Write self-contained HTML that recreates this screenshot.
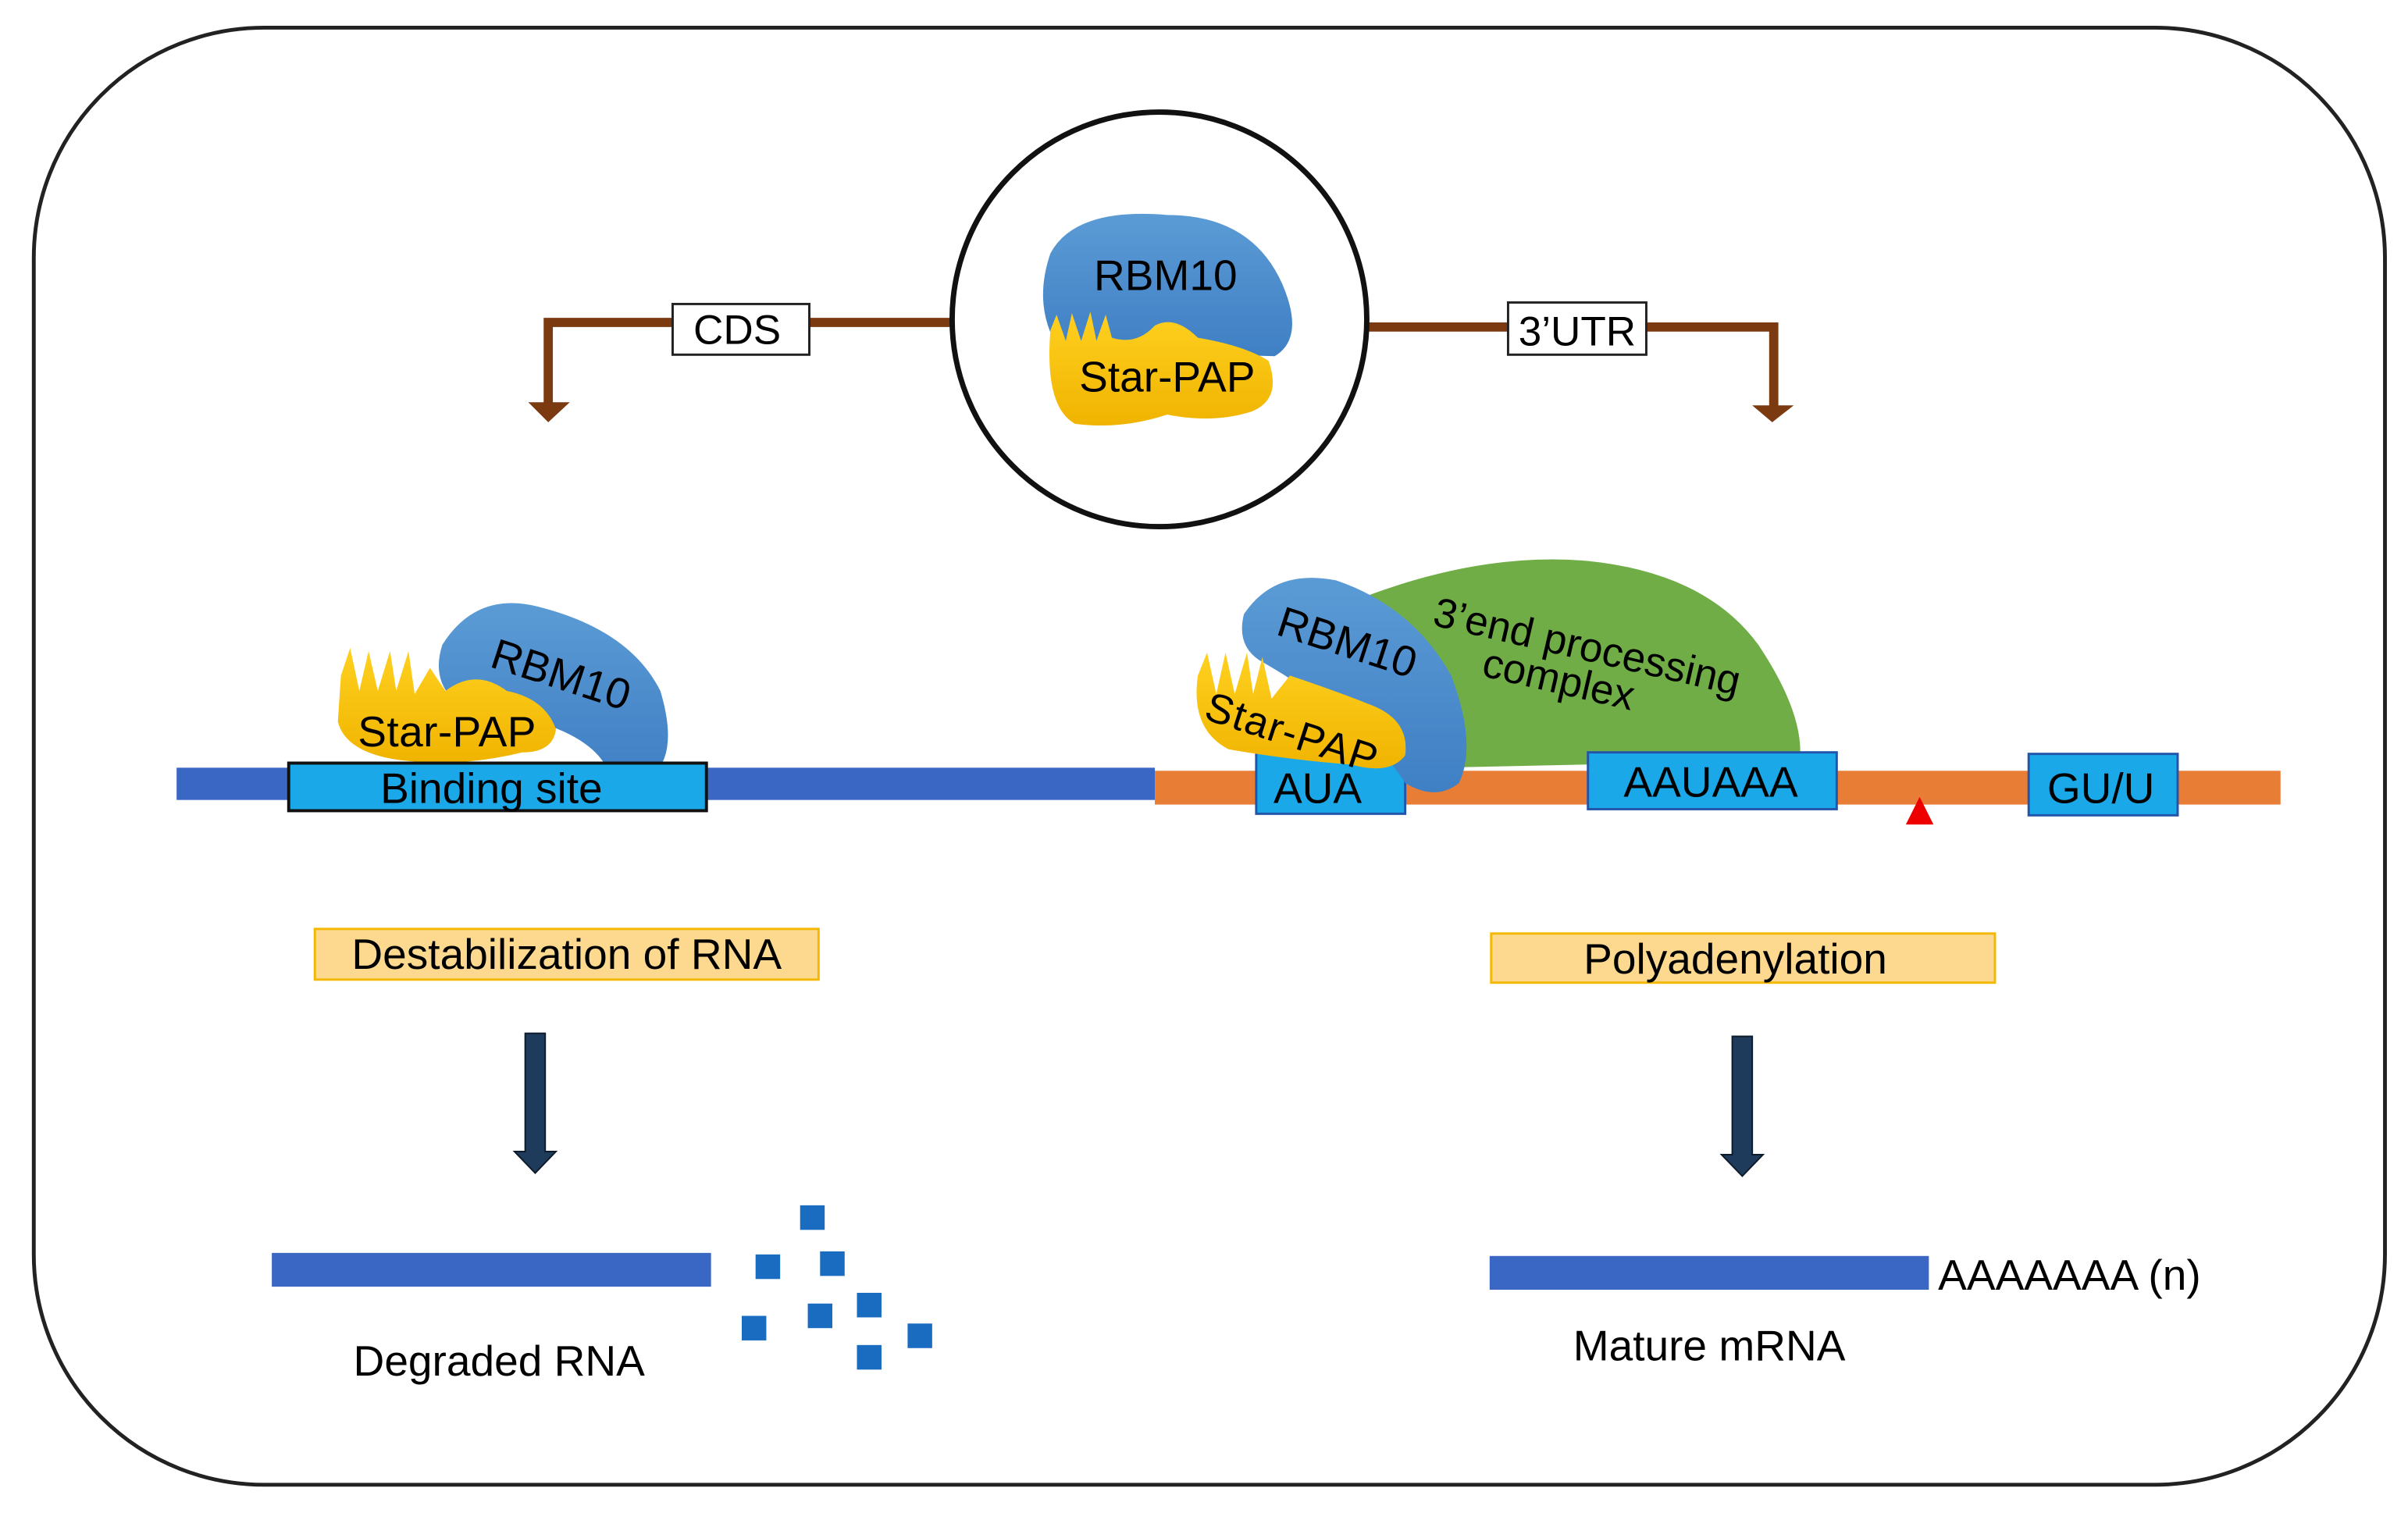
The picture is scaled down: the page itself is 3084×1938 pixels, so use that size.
<!DOCTYPE html>
<html><head><meta charset="utf-8"><style>
html,body{margin:0;padding:0;background:#fff}
svg{display:block}
text{font-family:"Liberation Sans",Arial,sans-serif}
</style></head><body>
<svg width="3084" height="1938" viewBox="0 0 1568 985.4" preserveAspectRatio="none" xmlns="http://www.w3.org/2000/svg">
<defs>
<linearGradient id="bl" x1="0" y1="0" x2="0" y2="1"><stop offset="0" stop-color="#5b9bd5"/><stop offset="1" stop-color="#3f7fc4"/></linearGradient>
<linearGradient id="yl" x1="0" y1="0" x2="0" y2="1"><stop offset="0" stop-color="#ffd020"/><stop offset="1" stop-color="#f0b400"/></linearGradient>
</defs>
<rect x="22" y="18" width="1531" height="949" rx="150" fill="#fff" stroke="#222" stroke-width="2.5"/>
<g stroke="#7b3a10" stroke-width="6" fill="none">
<polyline points="620,210 357,210 357,264"/>
<polyline points="890,213 1155,213 1155,266"/>
</g>
<polygon points="344,262 371,262 357,275" fill="#7b3a10"/>
<polygon points="1141,264 1168,264 1154,275" fill="#7b3a10"/>
<rect x="438" y="198" width="89" height="33" fill="#fff" stroke="#222" stroke-width="1.5"/>
<text x="480" y="224" font-size="27" text-anchor="middle">CDS</text>
<rect x="982" y="197" width="90" height="34" fill="#fff" stroke="#222" stroke-width="1.5"/>
<text x="1027" y="225" font-size="27" text-anchor="middle">3’UTR</text>
<circle cx="755" cy="208" r="135" fill="#fff" stroke="#111" stroke-width="3.5"/>
<path d="M684,165 Q700,135 760,140 Q815,140 835,185 Q850,220 830,232 L690,228 Q672,200 684,165Z" fill="url(#bl)"/>
<path d="M684,215 L688,205 L694,222 L698,204 L704,222 L710,203 L714,222 L720,205 L724,220 Q740,225 752,212 Q765,205 780,220 Q810,225 826,235 Q835,260 815,268 Q790,276 760,270 Q730,280 700,276 Q680,265 684,215Z" fill="url(#yl)"/>
<text x="759" y="189" font-size="28" text-anchor="middle">RBM10</text>
<text x="760" y="255" font-size="28" text-anchor="middle">Star-PAP</text>
<rect x="115" y="500" width="637" height="21" fill="#3a66c4"/>
<rect x="752" y="502" width="733" height="22" fill="#e87d35"/>
<path d="M880,392 Q960,360 1030,365 Q1110,372 1145,420 Q1175,465 1172,495 L935,500 Q880,470 880,392Z" fill="#70ad47"/>
<text transform="translate(932,407) rotate(13)" font-size="27">3’end processing</text>
<text transform="translate(964,440) rotate(13)" font-size="27">complex</text>
<path d="M288,420 Q310,385 350,395 Q410,410 430,450 Q442,490 425,505 Q405,515 395,500 Q380,470 300,460 Q280,445 288,420Z" fill="url(#bl)"/>
<path d="M222,440 L228,422 L234,450 L240,424 L246,450 L254,424 L258,450 L266,424 L270,452 L280,435 L290,450 Q310,435 330,450 Q355,455 362,475 Q360,490 340,490 Q300,500 260,495 Q225,490 220,470Z" fill="url(#yl)"/>
<text transform="translate(318,434) rotate(18)" font-size="28">RBM10</text>
<text x="291" y="486" font-size="28" text-anchor="middle" textLength="116">Star-PAP</text>
<rect x="188" y="497" width="272" height="31" fill="#1aa8e8" stroke="#111" stroke-width="2"/>
<text x="320" y="523" font-size="28" text-anchor="middle">Binding site</text>
<rect x="818" y="490" width="97" height="40" fill="#1aa8e8" stroke="#2255aa" stroke-width="1.5"/>
<text x="858" y="523" font-size="28" text-anchor="middle">AUA</text>
<path d="M810,400 Q830,370 870,378 Q920,395 945,440 Q962,485 950,510 Q935,522 915,510 Q890,470 820,430 Q805,420 810,400Z" fill="url(#bl)"/>
<path d="M780,440 L786,425 L792,452 L798,425 L804,452 L812,425 L816,452 L822,428 L828,455 L840,440 Q870,450 895,460 Q918,470 915,492 Q905,505 880,498 Q840,495 800,488 Q775,475 780,440Z" fill="url(#yl)"/>
<text transform="translate(830,413) rotate(18)" font-size="28">RBM10</text>
<text transform="translate(783,468) rotate(18)" font-size="27" textLength="116">Star-PAP</text>
<rect x="1034" y="490" width="162" height="37" fill="#1aa8e8" stroke="#2255aa" stroke-width="1.5"/>
<text x="1114" y="519" font-size="28" text-anchor="middle">AAUAAA</text>
<rect x="1321" y="491" width="97" height="40" fill="#1aa8e8" stroke="#2255aa" stroke-width="1.5"/>
<text x="1368" y="523" font-size="28" text-anchor="middle">GU/U</text>
<polygon points="1250,519 1241,537 1259,537" fill="#e00"/>
<rect x="205" y="605" width="328" height="33" fill="#fcd98f" stroke="#f5b800" stroke-width="1.5"/>
<text x="369" y="631" font-size="28" text-anchor="middle">Destabilization of RNA</text>
<rect x="971" y="608" width="328" height="32" fill="#fcd98f" stroke="#f5b800" stroke-width="1.5"/>
<text x="1130" y="634" font-size="28" text-anchor="middle">Polyadenylation</text>
<g fill="#1f3b5c" stroke="#0d1a2a" stroke-width="1">
<path d="M342,673 H355 V750 H362 L348.5,764 L335,750 H342Z"/>
<path d="M1128,675 H1141 V752 H1148 L1134.5,766 L1121,752 H1128Z"/>
</g>
<rect x="177" y="816" width="286" height="22" fill="#3a66c4"/>
<g fill="#1a6cc0">
<rect x="521" y="785" width="16" height="16"/><rect x="492" y="817" width="16" height="16"/><rect x="534" y="815" width="16" height="16"/>
<rect x="526" y="849" width="16" height="16"/><rect x="558" y="842" width="16" height="16"/><rect x="483" y="857" width="16" height="16"/>
<rect x="591" y="862" width="16" height="16"/><rect x="558" y="876" width="16" height="16"/>
</g>
<text x="325" y="896" font-size="28" text-anchor="middle">Degraded RNA</text>
<rect x="970" y="818" width="286" height="22" fill="#3a66c4"/>
<text x="1262" y="840" font-size="28">AAAAAAA (n)</text>
<text x="1113" y="886" font-size="28" text-anchor="middle">Mature mRNA</text>
</svg>
</body></html>
